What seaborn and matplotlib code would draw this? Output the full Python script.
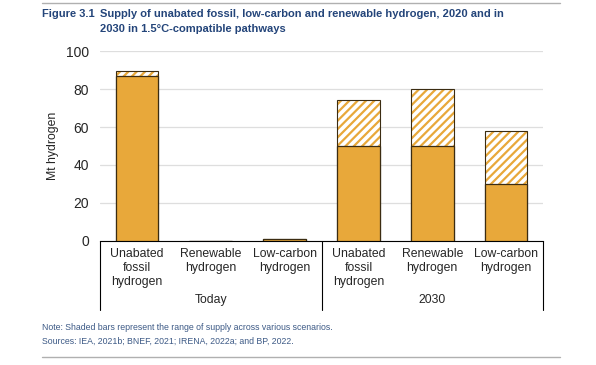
"""Figure 3.1 - hydrogen supply today vs 2030 (1.5C pathways)"""
import matplotlib
matplotlib.use('Agg')
import matplotlib.pyplot as plt
import matplotlib.transforms as mtransforms
import seaborn as sns
import pandas as pd

categories = ['Unabated\nfossil\nhydrogen', 'Renewable\nhydrogen', 'Low-carbon\nhydrogen',
              'Unabated\nfossil\nhydrogen', 'Renewable\nhydrogen', 'Low-carbon\nhydrogen']
groups = ['Today', '2030']
solid_values = [87, 0, 1.2, 50, 50, 30]
range_top = [89.5, 0, 1.2, 74, 80, 58]

BAR = '#E8A83A'
EDGE = '#3b2c12'
TITLE_BLUE = '#24457a'

sns.set_style('white')
plt.rcParams['font.family'] = ['Liberation Sans', 'DejaVu Sans']
plt.rcParams['hatch.linewidth'] = 1.6

df = pd.DataFrame({'slot': [f's{i}' for i in range(len(categories))],
                   'solid': solid_values, 'top': range_top})
order = list(df['slot'])

fig = plt.figure(figsize=(5.96, 3.65), dpi=100)
ax = fig.add_axes([0.168, 0.340, 0.743, 0.520])

# hatched range (white fill, orange hatch)
sns.barplot(data=df, x='slot', y='top', order=order, color='white', width=0.58,
            edgecolor=BAR, linewidth=0, hatch='////', ax=ax, zorder=2)
# outline of the range
sns.barplot(data=df, x='slot', y='top', order=order, fill=False, width=0.58,
            edgecolor=EDGE, linewidth=0.8, ax=ax, zorder=3)
# solid part
sns.barplot(data=df, x='slot', y='solid', order=order, color=BAR, width=0.58,
            edgecolor=EDGE, linewidth=0.9, saturation=1, ax=ax, zorder=4)

ax.set_ylim(0, 100)
ax.set_xlim(-0.5, len(categories) - 0.5)
ax.set_yticks(range(0, 101, 20))
ax.yaxis.grid(True, color='#dedede', linewidth=0.9, zorder=0)
ax.set_axisbelow(True)
for side in ['top', 'right', 'left']:
    ax.spines[side].set_visible(False)
ax.spines['bottom'].set_color('black')
ax.spines['bottom'].set_linewidth(0.8)
ax.tick_params(axis='y', length=0, labelsize=10, pad=8)
ax.tick_params(axis='x', length=0, labelsize=8.8, pad=5)
ax.set_xticks(range(len(categories)))
ax.set_xticklabels(categories, linespacing=1.22)
ax.set_xlabel('')
ax.set_ylabel('Mt hydrogen', fontsize=8.8, labelpad=5)

# group separators and group labels below the axis
trans = mtransforms.blended_transform_factory(ax.transData, ax.transAxes)
for xpos in [-0.5, 2.5, 5.5]:
    ax.plot([xpos, xpos], [0, -0.365], transform=trans, color='black',
            linewidth=0.8, clip_on=False)
for gi, name in enumerate(groups):
    ax.text(gi * 3 + 1, -0.31, name, transform=trans, ha='center', va='center',
            fontsize=8.8)

# title, note, rules
fig.text(0.070, 0.962, 'Figure 3.1', fontsize=8, fontweight='bold',
         color=TITLE_BLUE, va='center')
fig.text(0.168, 0.962, 'Supply of unabated fossil, low-carbon and renewable hydrogen, 2020 and in',
         fontsize=8, fontweight='bold', color=TITLE_BLUE, va='center')
fig.text(0.168, 0.921, '2030 in 1.5\u00b0C-compatible pathways',
         fontsize=8, fontweight='bold', color=TITLE_BLUE, va='center')
fig.text(0.070, 0.104, 'Note: Shaded bars represent the range of supply across various scenarios.',
         fontsize=6.3, color='#3d5a86', va='center')
fig.text(0.070, 0.066, 'Sources: IEA, 2021b; BNEF, 2021; IRENA, 2022a; and BP, 2022.',
         fontsize=6.3, color='#3d5a86', va='center')
for yline in [0.992, 0.022]:
    fig.add_artist(plt.Line2D([0.070, 0.940], [yline, yline], color='#b0b0b0',
                              linewidth=1.0, transform=fig.transFigure))

fig.savefig('out.png', dpi=100)
plt.close(fig)
